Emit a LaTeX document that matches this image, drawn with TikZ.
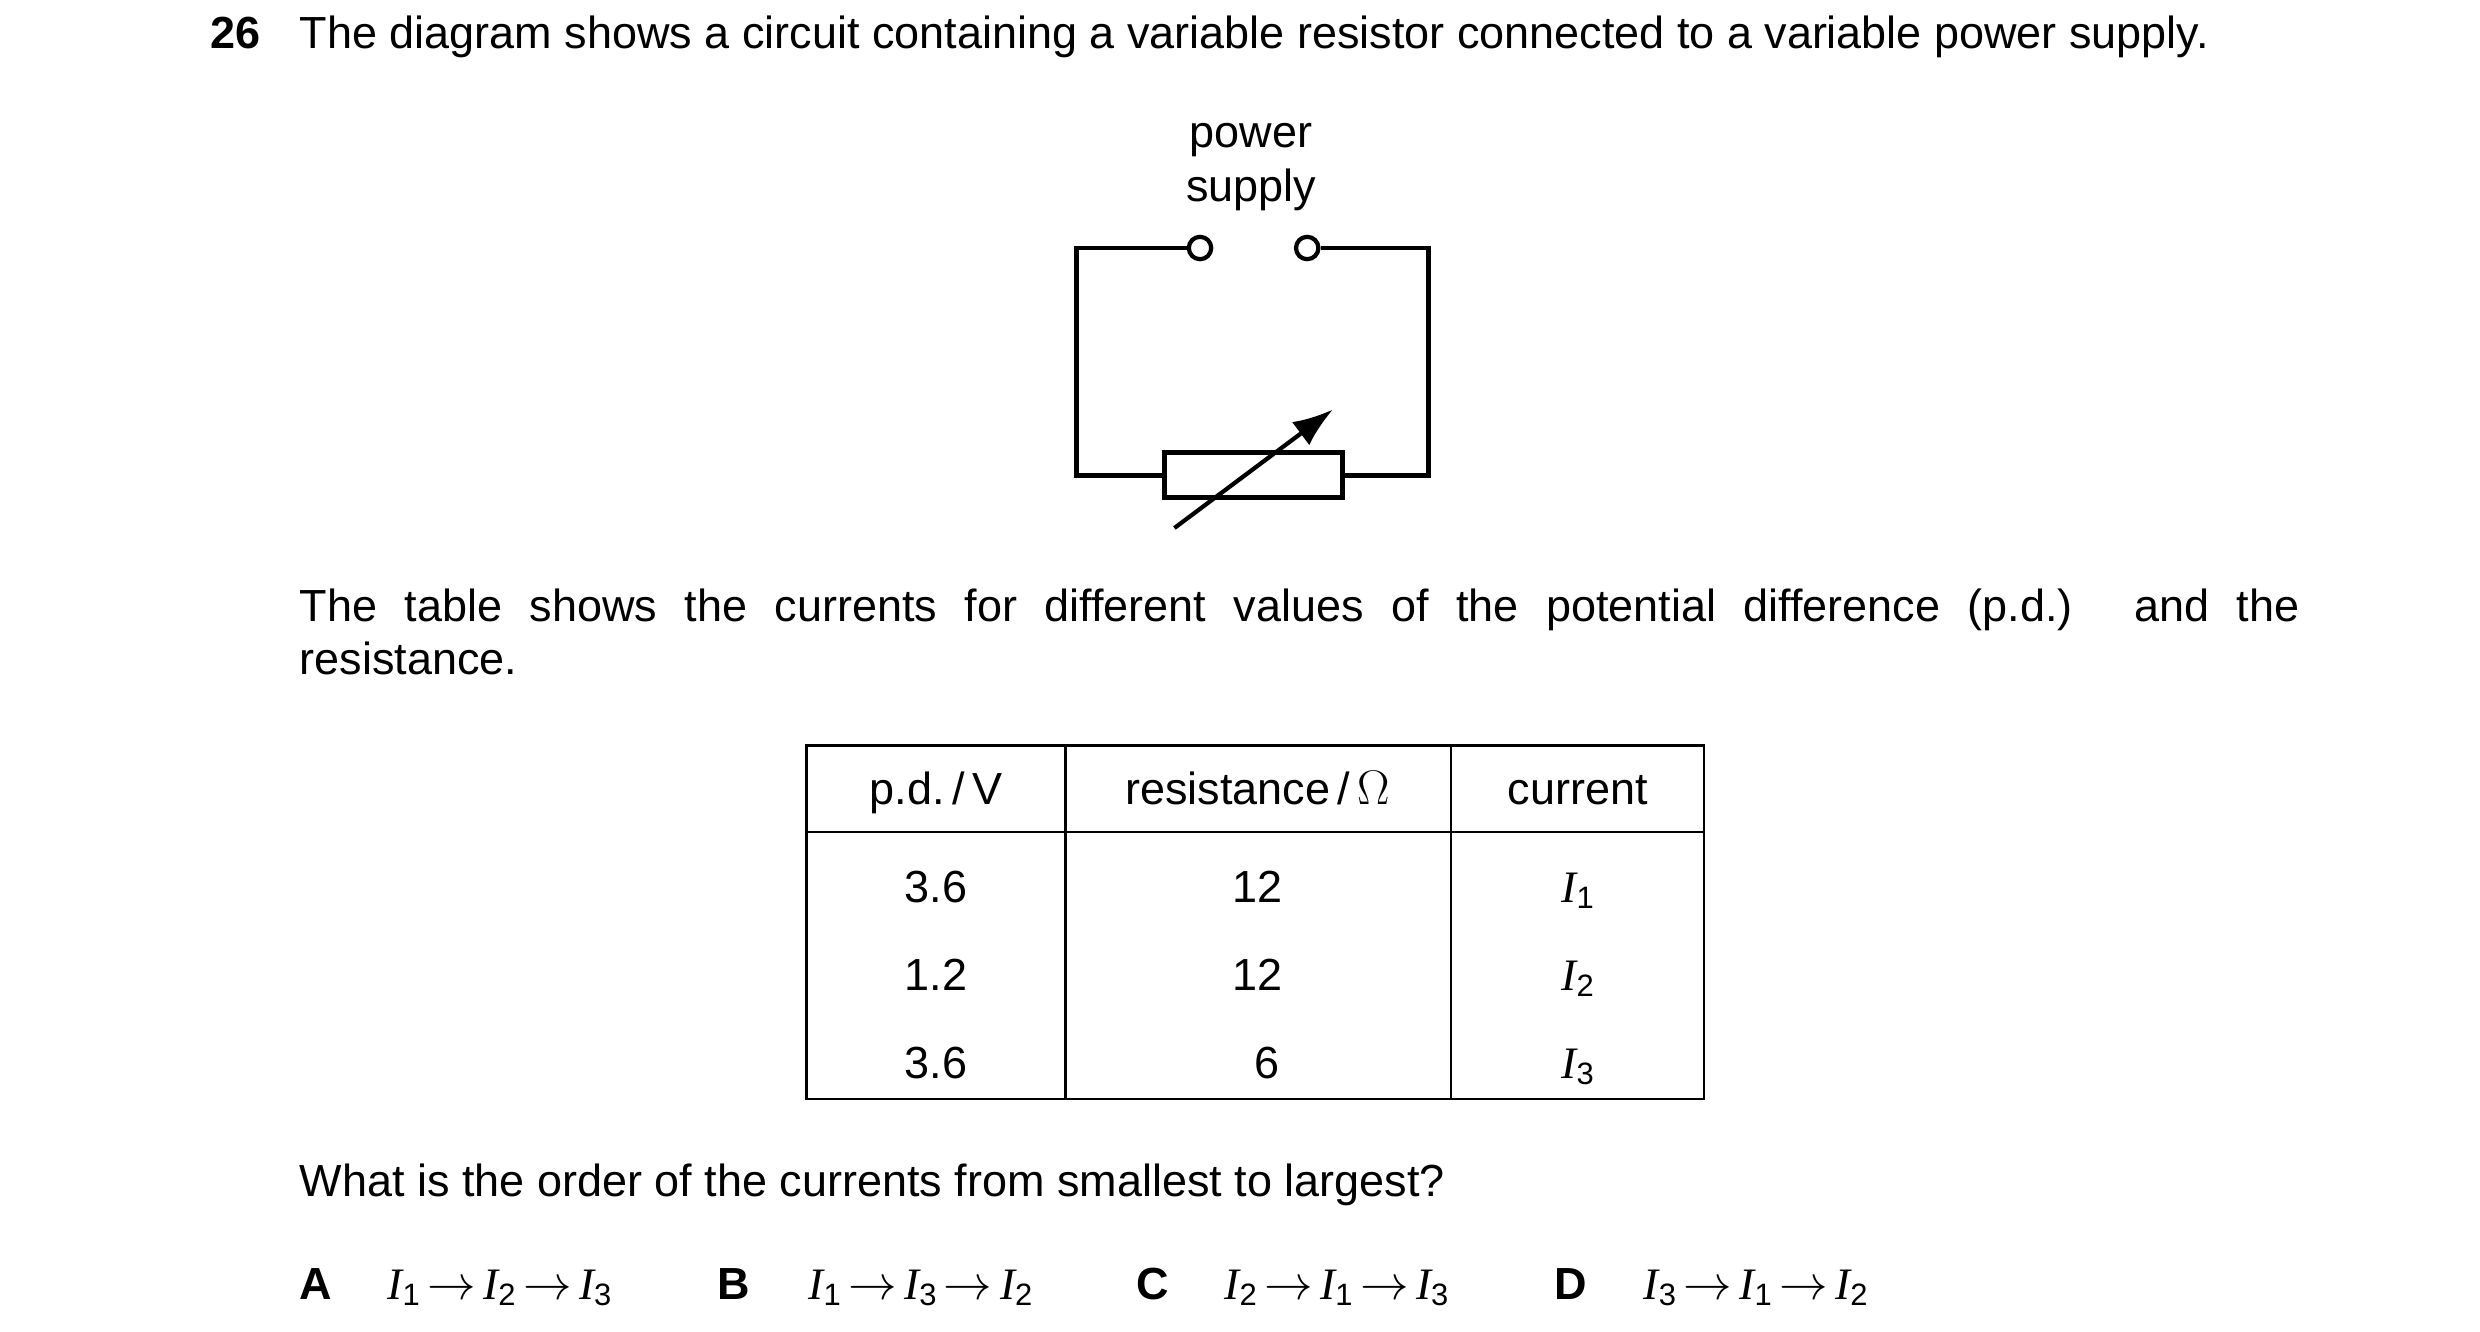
\documentclass[tikz,border=0pt]{standalone}
\usetikzlibrary{arrows.meta}
\usepackage{fontspec}
\setmainfont{Liberation Sans}
\newfontfamily\serifit{Liberation Serif}
\begin{document}
\begin{tikzpicture}[x=0.02cm,y=-0.02cm,
  txt/.style={anchor=base west,inner sep=0pt,font=\fontsize{16}{18.8}\selectfont},
  ctr/.style={anchor=base,inner sep=0pt,font=\fontsize{16}{18.8}\selectfont},
  wire/.style={line width=1.7pt,line join=miter},
  grid/.style={line width=0.9pt}]
\newcommand{\cur}[1]{{\serifit\itshape I}\raisebox{-0.25ex}{\fontsize{11}{12}\selectfont #1}}
\newcommand{\seq}[3]{\cur{#1}\,$\rightarrow$\,\cur{#2}\,$\rightarrow$\,\cur{#3}}
\useasboundingbox (0,0) rectangle (1550,832);
\node[txt,font=\fontsize{16}{18.8}\selectfont\bfseries] (num) at (131,30) {26};
\node[txt] (q1) at (187,30) {The diagram shows a circuit containing a variable resistor connected to a variable power supply.};
\node[ctr] (ps1) at (782,92) {power};
\node[ctr] (ps2) at (782,126) {supply};
% circuit
\node[circle,draw,line width=1.5pt,minimum size=0.28cm,inner sep=0pt] (t1) at (750,155) {};
\node[circle,draw,line width=1.5pt,minimum size=0.28cm,inner sep=0pt] (t2) at (817,155) {};
\node[draw,line width=1.7pt,minimum width=111*0.02cm,minimum height=28*0.02cm,inner sep=0pt] (R) at (783.5,297) {};
\coordinate (tl) at (673,155); \coordinate (bl) at (673,297);
\coordinate (tr) at (893,155); \coordinate (br) at (893,297);
\draw[wire] (t1.west) -- (tl) -- (bl) -- (R.west);
\draw[wire] (t2.east) -- (tr) -- (br) -- (R.east);
\coordinate (a0) at (734,330); \coordinate (a1) at (833,256);
\draw[line width=1.5pt,-{Latex[length=0.5cm,width=0.36cm]}] (a0) -- (a1);
% paragraph
\node[anchor=north west,inner sep=0pt,text width=25cm,align=justify,font=\fontsize{16}{18.8}\selectfont] (p) at (187,368) {The table shows the currents for different values of the potential difference (p.d.) and the\linebreak resistance.};
% table
\draw[grid] (504,466) rectangle (1065,687);
\draw[grid] (504,520) -- (1065,520);
\draw[grid] (666,466) -- (666,687);
\draw[grid] (907,466) -- (907,687);
\node[ctr] (h1) at (585,503) {p.d.\,/\,V};
\node[ctr] (h2) at (786,503) {resistance\,/\,$\Omega$};
\node[ctr] (h3) at (986,503) {current};
\node[ctr] (r11) at (585,564) {3.6};
\node[ctr] (r12) at (786,564) {12};
\node[ctr] (r13) at (986,564) {\cur{1}};
\node[ctr] (r21) at (585,619) {1.2};
\node[ctr] (r22) at (786,619) {12};
\node[ctr] (r23) at (986,619) {\cur{2}};
\node[ctr] (r31) at (585,674) {3.6};
\node[ctr] (r32) at (792,674) {6};
\node[ctr] (r33) at (986,674) {\cur{3}};
\node[txt] (q2) at (187,748) {What is the order of the currents from smallest to largest?};
\node[txt,font=\fontsize{16}{18.8}\selectfont\bfseries] (lA) at (187,812) {A};
\node[txt] (oA) at (242,812) {\seq{1}{2}{3}};
\node[txt,font=\fontsize{16}{18.8}\selectfont\bfseries] (lB) at (448,812) {B};
\node[txt] (oB) at (505,812) {\seq{1}{3}{2}};
\node[txt,font=\fontsize{16}{18.8}\selectfont\bfseries] (lC) at (710,812) {C};
\node[txt] (oC) at (765,812) {\seq{2}{1}{3}};
\node[txt,font=\fontsize{16}{18.8}\selectfont\bfseries] (lD) at (971,812) {D};
\node[txt] (oD) at (1027,812) {\seq{3}{1}{2}};
\end{tikzpicture}
\end{document}
